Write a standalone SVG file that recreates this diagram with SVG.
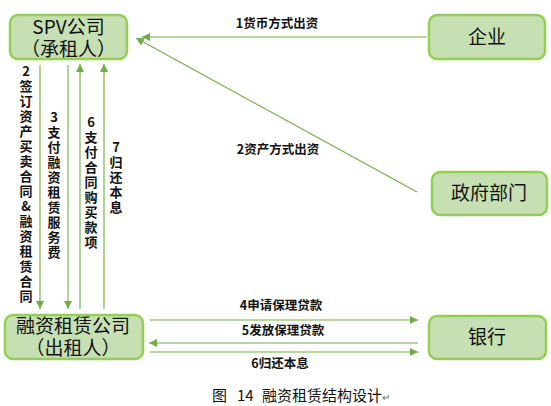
<svg xmlns="http://www.w3.org/2000/svg" width="551" height="406" viewBox="0 0 551 406">
<style>
.box{fill:#c6e0b4;stroke:#92d050;stroke-width:2.5}
.nt{font-family:"Noto Sans CJK SC","Microsoft YaHei",sans-serif;font-size:19px;fill:#111;text-anchor:middle}
.ln{stroke:#70ad47;stroke-width:1.1;fill:none}
.lb{font-family:"Noto Sans CJK SC",sans-serif;font-size:12.5px;font-weight:bold;fill:#111;text-anchor:middle}
.vl{font-family:"Noto Sans CJK SC",sans-serif;font-size:13px;font-weight:bold;fill:#111;writing-mode:vertical-rl;text-orientation:upright;letter-spacing:2px}
.cap{font-family:"Noto Sans CJK SC",sans-serif;font-size:15px;fill:#111}
</style>
<defs>
<marker id="ah" viewBox="0 0 10 10" refX="10" refY="5" markerWidth="8" markerHeight="8" markerUnits="userSpaceOnUse" orient="auto">
<path d="M0,0 L10,5 L0,10 z" fill="#70ad47"/>
</marker>
</defs>
<rect width="551" height="406" fill="#fff"/>
<g id="spv">
<rect class="box" x="10" y="15" width="117" height="44" rx="8"/>
<text class="nt"><tspan x="68.5" y="34">SPV公司</tspan><tspan x="68.5" y="56">（承租人）</tspan></text>
</g>
<g id="qiye">
<rect class="box" x="429" y="15" width="116" height="44" rx="8"/>
<text class="nt" x="487" y="44">企业</text>
</g>
<g id="zhengfu">
<rect class="box" x="432" y="172" width="115" height="43" rx="8"/>
<text class="nt" x="489" y="200">政府部门</text>
</g>
<g id="zulin">
<rect class="box" x="5" y="315" width="138" height="44" rx="8"/>
<text class="nt"><tspan x="73" y="333">融资租赁公司</tspan><tspan x="73" y="355">（出租人）</tspan></text>
</g>
<g id="yinhang">
<rect class="box" x="429" y="316" width="117" height="43" rx="8"/>
<text class="nt" x="487" y="344">银行</text>
</g>
<g id="connectors">
<line class="ln" x1="427" y1="37" x2="142" y2="37" marker-end="url(#ah)"/>
<line class="ln" x1="417" y1="192" x2="136" y2="38" marker-end="url(#ah)"/>
<line class="ln" x1="40" y1="65" x2="40" y2="309" marker-end="url(#ah)"/>
<line class="ln" x1="68" y1="65" x2="68" y2="309" marker-end="url(#ah)"/>
<line class="ln" x1="80" y1="309" x2="80" y2="64" marker-end="url(#ah)"/>
<line class="ln" x1="104" y1="309" x2="104" y2="64" marker-end="url(#ah)"/>
<line class="ln" x1="150" y1="320" x2="418" y2="320" marker-end="url(#ah)"/>
<line class="ln" x1="418" y1="343" x2="149" y2="343" marker-end="url(#ah)"/>
<line class="ln" x1="150" y1="352" x2="418" y2="352" marker-end="url(#ah)"/>
</g>
<g id="labels">
<text class="lb" x="277" y="28">1货币方式出资</text>
<text class="lb" x="278" y="154">2资产方式出资</text>
<text class="lb" x="281" y="310">4申请保理贷款</text>
<text class="lb" x="283" y="335">5发放保理贷款</text>
<text class="lb" x="280" y="368">6归还本息</text>
<text class="vl" x="26" y="65">2签订资产买卖合同&amp;融资租赁合同</text>
<text class="vl" x="54" y="111">3支付融资租赁服务费</text>
<text class="vl" x="91" y="116">6支付合同购买款项</text>
<text class="vl" x="116" y="141">7归还本息</text>
</g>
<text class="cap" y="401"><tspan x="212">图</tspan><tspan x="237">14</tspan><tspan x="262">融资租赁结构设计</tspan><tspan font-size="10" fill="#666">↵</tspan></text>
</svg>
